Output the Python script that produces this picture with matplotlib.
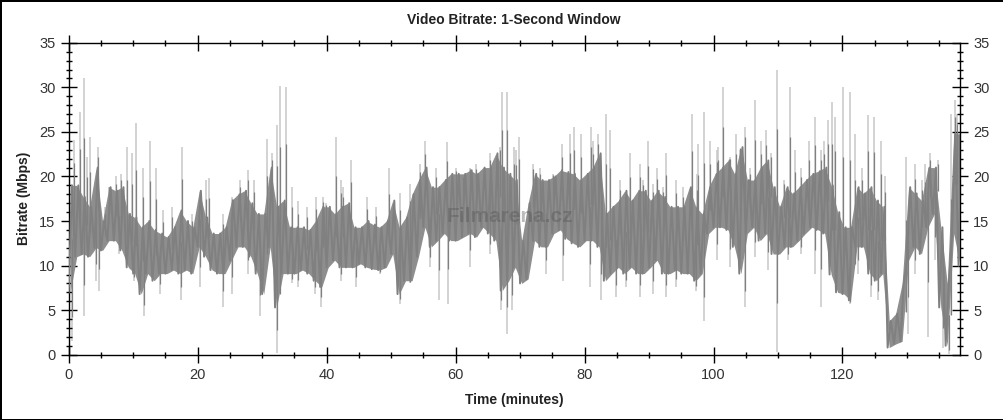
import matplotlib
matplotlib.use("Agg")
import matplotlib.pyplot as plt
import numpy as np
from matplotlib.ticker import MultipleLocator

plt.rcParams["font.family"] = ["Liberation Sans", "DejaVu Sans"]

# per-minute envelope of the dense bitrate trace (Mbps), minutes 0..138
band_hi = [19, 19, 17.7, 16.6, 21, 15, 18.8, 18.4, 18.8, 15.8,
           15.4, 14.3, 15, 14, 13.6, 13.2, 14.3, 16.2, 15, 14.3,
           18.4, 15.4, 13.6, 13.6, 14.3, 17.3, 18, 18.4, 17, 15.8,
           15.8, 21, 16.6, 17.3, 14.3, 14.3, 14.3, 14, 15, 16.6,
           16.6, 15.8, 16.6, 17, 14.3, 14.3, 15, 14.6, 14.3, 15,
           17.3, 14.3, 15.4, 18, 19.6, 21, 18.8, 18.8, 19.6, 20.3,
           20.3, 20.3, 20.7, 20.3, 21, 21, 22.6, 21, 20.3, 19.6,
           12.8, 17, 20.3, 19.6, 19.6, 20, 20.7, 20.5, 20.3, 19.6,
           20.3, 21, 22.6, 15.8, 16.6, 17.3, 18.4, 17.3, 18.4, 18.4,
           17.3, 18.4, 17.7, 16.6, 16.6, 16.6, 18.8, 16.6, 15.8, 18.8,
           20.3, 21, 21.8, 20.3, 23.3, 19.6, 19.6, 21, 21.8, 18.8,
           16.6, 18.8, 18.1, 18.8, 19.6, 20.3, 20.6, 21, 19, 16,
           14.3, 14.3, 18.8, 18.1, 18.8, 17.3, 16.6, 3.8, 4.6, 8,
           18.8, 18.1, 17.3, 21, 21, 14.3, 8, 24.8, 24.8]
band_lo = [7, 11, 11.3, 11, 12, 11.7, 12.8, 12.8, 11.7, 9.8,
           9.1, 6.8, 9.1, 8.3, 9.1, 9.1, 9.5, 9.1, 9.5, 9.1,
           12.1, 11, 9.5, 9.1, 9.1, 10.6, 12.1, 12.1, 11, 9.1,
           6.8, 12.1, 5.3, 9.1, 9.1, 9.1, 9.5, 9.1, 8.3, 7.6,
           9.8, 10.6, 9.8, 9.8, 9.8, 10.2, 9.8, 9.6, 9.5, 9.8,
           11.3, 6.8, 8.3, 8.3, 11, 14.3, 12.1, 12.8, 13.6, 12.8,
           12.8, 13.2, 13.6, 13.2, 14.3, 13.6, 12.8, 7.2, 8.3, 9.8,
           8, 8.5, 12.8, 12.1, 12.1, 13.6, 14, 13, 12.5, 12.1,
           12.8, 12.8, 12.1, 8.3, 9.1, 9.8, 9.1, 9.8, 9.1, 9.1,
           9.8, 10.6, 9.1, 9.1, 9.5, 9.1, 9.1, 8.3, 9.1, 13.6,
           14.3, 14.3, 14, 12.1, 9.1, 13.6, 14.3, 12.8, 13.6, 11.3,
           11.3, 12.1, 12.1, 12.8, 13.6, 14.3, 14, 13.6, 9, 7,
           6.8, 6.1, 12.1, 12.1, 9.1, 8.3, 9.1, 0.8, 1.2, 1.5,
           10.6, 12.1, 11.3, 14.3, 15.8, 5.3, 1, 13.6, 10]

# short peaks above the band (minute, Mbps)
peak_t = [0.9, 1.7, 2.4, 2.9, 3.3, 4.6, 5.7, 6.3, 7.3, 8.1,
          9.1, 9.8, 10.5, 11.5, 12.6, 13.5, 14.6, 16.1, 17.6, 19.2,
          21.3, 21.8, 23.9, 25.4, 26.5, 27.8, 28.8, 30.7, 31.6, 32.3,
          32.8, 33.7, 34.7, 35.6, 36.9, 38.4, 39.5, 39.9, 41.4, 42.3,
          42.6, 43.8, 46.2, 47.7, 49.7, 51.4, 52.9, 54.5, 55.2, 57.0,
          58.6, 60.1, 61.2, 62.2, 63.2, 65.3, 66.9, 67.2, 67.9, 69.0,
          69.4, 69.9, 72.0, 73.1, 75.1, 76.5, 77.7, 78.4, 79.4, 81.0,
          81.3, 82.1, 83.4, 84.0, 85.5, 87.0, 88.6, 89.1, 89.8, 90.6,
          91.2, 92.2, 92.7, 94.2, 95.3, 96.6, 97.4, 97.6, 98.6, 99.4,
          100.5, 100.7, 101.5, 102.5, 103.5, 104.1, 104.9, 105.6, 106.4, 107.4,
          108.2, 108.9, 109.9, 111.0, 111.8, 112.6, 113.6, 114.8, 115.7, 116.7,
          117.2, 117.8, 118.4, 118.8, 120.1, 121.1, 121.9, 123.0, 124.0, 124.9,
          126.0, 126.6, 129.9, 131.2, 132.3, 132.8, 133.6, 134.8, 136.9, 137.4,
          137.7]
peak_v = [24.1, 27.2, 31, 22.2, 24.4, 23.3, 16.6, 18.8, 20, 20.3,
          23.3, 22.6, 26, 21, 24, 21, 16.2, 16.6, 23.3, 15.8,
          19.6, 19.8, 15.8, 17.7, 19.6, 20.7, 19.6, 24.2, 22.6, 25.8,
          30.1, 30, 18.8, 17.3, 16.6, 17.7, 17.7, 17, 24.4, 19.6,
          18.8, 21.8, 17.7, 16.6, 21, 18.1, 19.2, 21.4, 24, 21,
          23.9, 21, 19.6, 21, 21.4, 22.6, 23.3, 29.5, 29.5, 23.3,
          23, 24.4, 21.4, 21, 20.3, 23.7, 24.8, 25.6, 24.8, 25.6,
          24, 24.8, 27, 25.2, 19.6, 22.6, 21.4, 19.6, 24, 19.2,
          21, 18.8, 22.6, 19.6, 18.8, 27, 20.3, 23.7, 27.2, 24,
          23, 23.3, 30, 22.2, 24.8, 23, 25.6, 21, 28.6, 24,
          25.2, 22.6, 31.9, 19.6, 30, 23, 21, 24, 26.7, 23,
          24, 26.3, 28.4, 26.7, 30, 29.5, 24.8, 21, 26.9, 26.7,
          24, 20, 22.2, 21.4, 19.6, 21.4, 22.6, 21.8, 27, 28.6,
          27]

# short dips below the band (minute, Mbps)
dip_t = [0.5, 2.4, 4.2, 4.7, 7.8, 10.2, 11.7, 14.1, 17.4, 20.3,
         23.9, 25.4, 27.8, 29.6, 32.35, 32.7, 34.7, 35.5, 38.2, 39.2,
         42.3, 44.6, 48.3, 51.4, 53.0, 56.0, 57.5, 58.8, 62.2, 65.3,
         67.1, 68.0, 68.8, 74.1, 76.7, 80.8, 82.6, 84.9, 86.5, 88.6,
         90.6, 92.7, 94.2, 97.3, 98.6, 100.5, 102.5, 104.9, 106.4, 108.5,
         109.9, 111.6, 113.6, 115.7, 116.6, 121.1, 122.4, 124.5, 125.5, 130.2,
         131.2, 133.3, 134.3, 135.6, 136.5]
dip_v = [1.5, 4.3, 8.3, 7.2, 11.3, 8.3, 4.3, 6.8, 6.1, 7.6,
         5.3, 6.8, 9.1, 4.3, 0.2, 8.3, 8, 7.6, 6.8, 5.3,
         8.3, 7.6, 9.1, 5.7, 8, 9.8, 6.1, 5.7, 9.8, 11.3,
         5, 2.3, 5, 9.1, 8.3, 7.6, 6.1, 6.5, 7.6, 6.5,
         6.8, 6.5, 7.6, 7.2, 3.8, 10.6, 9.8, 5.3, 11, 9.5,
         0.3, 10.6, 11.3, 9.1, 5.3, 5.7, 9.1, 6.5, 6.1, 2.3,
         9.1, 2, 10.6, 0.8, 0.1]

minutes = np.arange(len(band_hi))
band_hi = np.array(band_hi)
band_lo = np.array(band_lo)
mid = (band_hi + band_lo) / 2
peak_v = np.array(peak_v)
dip_v = np.array(dip_v)

fig = plt.figure(figsize=(10.04, 4.2), dpi=100, edgecolor="black", linewidth=2)
ax = fig.add_axes([0.0684, 0.1555, 0.8876, 0.7425])

dark = "#808080"
light = "#c8c8c8"

# light fringe: peaks and dips
pi = np.floor(peak_t).astype(int)
ax.vlines(peak_t, mid[pi], peak_v, color=light, lw=1.1, zorder=1)
di = np.floor(dip_t).astype(int)
ax.vlines(dip_t, dip_v, mid[di], color=light, lw=1.1, zorder=1)

# dense band: filled envelope plus a saw line running lo -> hi each minute
ax.fill_between(minutes + 0.25, band_lo, band_hi, color="#8e8e8e", lw=0, zorder=2)
saw_x = np.column_stack([minutes, minutes + 0.5]).ravel()
saw_y = np.column_stack([band_lo, band_hi]).ravel()
ax.plot(saw_x, saw_y, color=dark, lw=1.4, zorder=3)

ax.vlines(peak_t, mid[pi], (peak_v + band_hi[pi]) / 2, color=dark, lw=0.9, zorder=3)
ax.vlines(dip_t, (dip_v + band_lo[di]) / 2, mid[di], color=dark, lw=0.9, zorder=3)

ax.text(68.4, 15.5, "Filmarena.cz", ha="center", va="center", fontsize=15,
        fontweight="bold", color="#555555", alpha=0.4, zorder=4)

ax.set_xlim(0, 138.2)
ax.set_ylim(0, 35)
ax.xaxis.set_major_locator(MultipleLocator(20))
ax.xaxis.set_minor_locator(MultipleLocator(5))
ax.yaxis.set_major_locator(MultipleLocator(5))
ax.yaxis.set_minor_locator(MultipleLocator(1))
ax.tick_params(which="major", direction="inout", length=11, width=1,
               top=True, right=True, labelright=True, labelsize=10.5,
               labelcolor="#333333", pad=4)
ax.tick_params(which="minor", direction="inout", length=5, width=1,
               top=True, right=True)
for s in ax.spines.values():
    s.set_linewidth(1)

ax.set_title("Video Bitrate: 1-Second Window", fontsize=10, fontweight="bold",
             color="#222222", pad=13.5)
ax.set_xlabel("Time (minutes)", fontsize=10, fontweight="bold", color="#222222", labelpad=8)
ax.set_ylabel("Bitrate (Mbps)", fontsize=10, fontweight="bold", color="#222222", labelpad=6)

fig.savefig("out.png", dpi=100)
